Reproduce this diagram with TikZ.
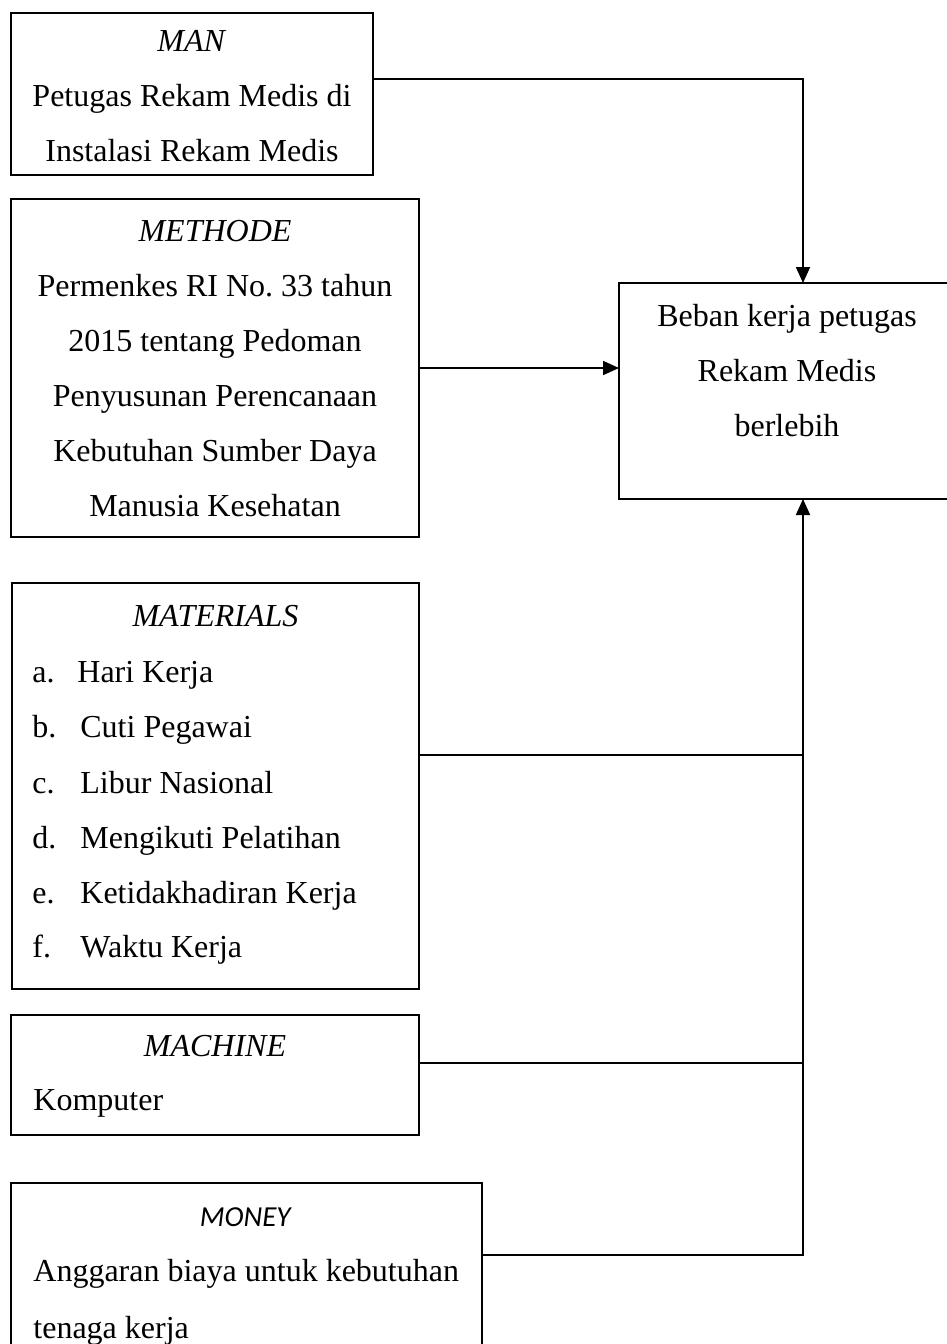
\documentclass[tikz,border=0pt]{standalone}
\usepackage{fontspec}
\setmainfont{Liberation Serif}
\newfontfamily\calibri{Carlito}
\usetikzlibrary{arrows.meta}
\begin{document}
\frenchspacing
\begin{tikzpicture}[x=0.5pt,y=-0.5pt,
  box/.style={draw,line width=0.9pt,inner sep=0pt,outer sep=0pt,anchor=north west},
  conn/.style={line width=0.9pt},
  arr/.style={conn,-{Triangle[length=8pt,width=7pt]}},
  txt/.style={anchor=base,inner sep=0pt,yshift=-1.5pt,font=\fontsize{16}{18}\selectfont},
  ltxt/.style={txt,anchor=base west}]
\useasboundingbox (0,0) rectangle (947,1344);
\clip (0,0) rectangle (947,1344);
% boxes
\node[box,minimum width=181pt,minimum height=81pt] (man) at (11,13) {};
\node[box,minimum width=204pt,minimum height=169pt] (methode) at (11,199) {};
\node[box,minimum width=168pt,minimum height=108pt] (beban) at (619,283) {};
\node[box,minimum width=203.5pt,minimum height=203pt] (materials) at (12,583) {};
\node[box,minimum width=204pt,minimum height=60pt] (machine) at (11,1015) {};
\node[box,minimum width=235.5pt,minimum height=88.5pt] (money) at (11,1183) {};
% texts
\node[txt] (t1) at (192,48) {\textit{MAN}};
\node[txt] (t2) at (192,103) {Petugas Rekam Medis di};
\node[txt] (t3) at (192,158) {Instalasi Rekam Medis};
\node[txt] (t4) at (215,238) {\textit{METHODE}};
\node[txt] (t5) at (215,293) {Permenkes RI No. 33 tahun};
\node[txt] (t6) at (215,348) {2015 tentang Pedoman};
\node[txt] (t7) at (215,403) {Penyusunan Perencanaan};
\node[txt] (t8) at (215,458) {Kebutuhan Sumber Daya};
\node[txt] (t9) at (215,513) {Manusia Kesehatan};
\node[txt] (b1) at (787,323) {Beban kerja petugas};
\node[txt] (b2) at (787,378) {Rekam Medis};
\node[txt] (b3) at (787,433) {berlebih};
\node[txt] (m0) at (215.5,623) {\textit{MATERIALS}};
\node[ltxt] (la) at (32,679) {a.};
\node[ltxt] (ia) at (77,679) {Hari Kerja};
\node[ltxt] (lb) at (32,734) {b.};
\node[ltxt] (ib) at (80,734) {Cuti Pegawai};
\node[ltxt] (lc) at (32,790) {c.};
\node[ltxt] (ic) at (80,790) {Libur Nasional};
\node[ltxt] (ld) at (32,845) {d.};
\node[ltxt] (id) at (80,845) {Mengikuti Pelatihan};
\node[ltxt] (le) at (32,900) {e.};
\node[ltxt] (ie) at (80,900) {Ketidakhadiran Kerja};
\node[ltxt] (lf) at (32,954) {f.};
\node[ltxt] (if) at (80,954) {Waktu Kerja};
\node[txt] (c0) at (215,1053) {\textit{MACHINE}};
\node[ltxt] (c1) at (33,1107) {Komputer};
\node[txt,font=\calibri\fontsize{14.5}{16}\selectfont] (n0) at (246,1223) {\textit{MONEY}};
\node[ltxt] (n1) at (33,1278) {Anggaran biaya untuk kebutuhan};
\node[ltxt] (n2) at (33,1335) {tenaga kerja};
% connectors
\coordinate (vline) at (803,0);
\coordinate (manrow) at (0,79);
\coordinate (matrow) at (0,755);
\coordinate (macrow) at (0,1063);
\coordinate (monrow) at (0,1255);
\draw[arr] (man.east |- manrow) -| (beban.north -| vline);
\draw[arr] (methode.east) -- (methode.east -| beban.west);
\draw[arr] (money.east |- monrow) -| (beban.south -| vline);
\draw[conn] (materials.east |- matrow) -- (matrow -| vline);
\draw[conn] (machine.east |- macrow) -- (macrow -| vline);
\end{tikzpicture}
\end{document}
